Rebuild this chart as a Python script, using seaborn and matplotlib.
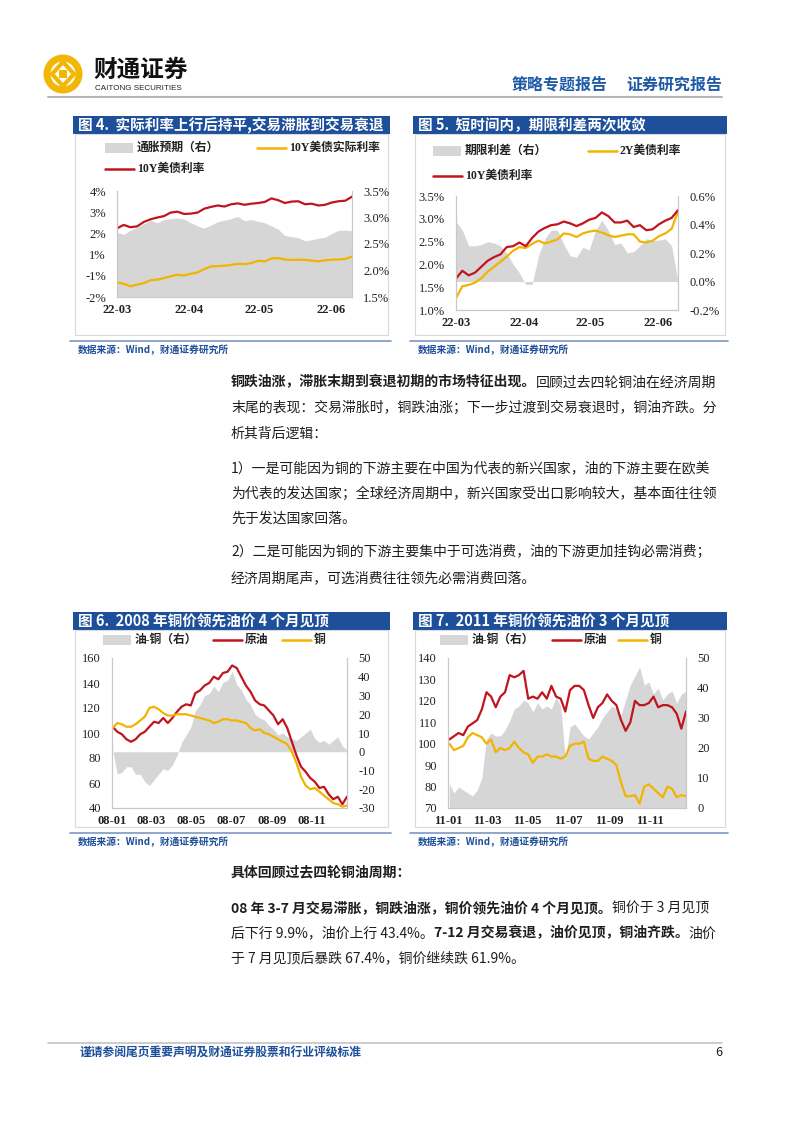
import numpy as np
import pandas as pd
import matplotlib
matplotlib.use('Agg')
import matplotlib.pyplot as plt
import seaborn as sns
from matplotlib.patches import Rectangle, Circle, Polygon

# ---- data ----
# Fig 4: 10Y UST, 10Y real yield (left), breakeven inflation (right)
ust10_f4 = [1.89, 2.08, 1.95, 2.00, 2.25, 2.40, 2.50, 2.58, 2.78, 2.83, 2.70, 2.72,
            2.78, 3.00, 3.10, 3.18, 3.12, 3.25, 3.30, 3.22, 3.28, 3.32, 3.38, 3.58,
            3.48, 3.32, 3.40, 3.42, 3.25, 3.28, 3.18, 3.22, 3.35, 3.42, 3.45, 3.68]
real10_f4 = [-1.17, -1.25, -1.40, -1.30, -1.21, -1.05, -1.02, -0.93, -0.83, -0.74, -0.78, -0.68,
             -0.61, -0.42, -0.27, -0.25, -0.23, -0.18, -0.12, -0.14, -0.08, 0.05, 0.02, 0.18,
             0.20, 0.12, 0.10, 0.11, 0.10, 0.06, 0.02, 0.08, 0.11, 0.13, 0.15, 0.29]
infl_f4 = [2.72, 2.68, 2.76, 2.82, 2.88, 2.95, 2.90, 2.96, 2.98, 2.99, 2.97, 2.90,
           2.84, 2.80, 2.86, 2.92, 2.95, 2.98, 3.02, 2.94, 2.96, 2.93, 2.90, 2.84,
           2.78, 2.66, 2.64, 2.62, 2.56, 2.58, 2.61, 2.63, 2.70, 2.76, 2.76, 2.75]

# Fig 5: 10Y, 2Y (left), term spread (right)
ust10_f5 = [1.69, 1.86, 1.76, 1.82, 1.95, 2.08, 2.16, 2.22, 2.38, 2.40, 2.48, 2.40,
            2.58, 2.72, 2.80, 2.86, 2.88, 2.94, 2.90, 2.84, 2.90, 2.98, 3.02, 3.14,
            3.06, 2.92, 2.92, 2.96, 2.82, 2.86, 2.75, 2.77, 2.88, 2.96, 3.02, 3.19]
ust2_f5 = [1.26, 1.52, 1.55, 1.60, 1.70, 1.84, 1.95, 2.06, 2.17, 2.30, 2.38, 2.36,
           2.45, 2.52, 2.46, 2.50, 2.55, 2.68, 2.66, 2.60, 2.68, 2.72, 2.74, 2.70,
           2.64, 2.60, 2.63, 2.66, 2.66, 2.50, 2.48, 2.52, 2.62, 2.68, 2.78, 3.16]
spread_f5 = [0.42, 0.36, 0.25, 0.25, 0.26, 0.28, 0.27, 0.25, 0.20, 0.12, 0.06, -0.02,
             -0.02, 0.18, 0.30, 0.36, 0.36, 0.26, 0.18, 0.17, 0.24, 0.22, 0.36, 0.43,
             0.36, 0.26, 0.27, 0.20, 0.21, 0.25, 0.30, 0.29, 0.29, 0.30, 0.25, 0.00]

# Fig 6: 2008 weekly, oil & copper (left, rebased), oil-copper (right)
oil_08 = [105, 101, 99, 95, 93, 95, 99, 101, 105, 109, 108, 112, 108, 112, 117, 121, 123, 122,
          132, 134, 138, 140, 145, 143, 148, 149, 154, 152, 145, 138, 133, 126, 123, 122, 118,
          114, 107, 111, 104, 93, 82, 73, 69, 64, 61, 56, 57, 51, 47, 49, 43, 49]
cu_08 = [104, 108, 107, 105, 105, 107, 110, 113, 120, 121, 119, 116, 114, 114, 115, 115, 115, 114,
         113, 112, 111, 110, 108, 109, 111, 111, 110, 110, 109, 108, 104, 102, 103, 100, 99,
         97, 95, 93, 91, 85, 76, 65, 58, 55, 56, 53, 50, 47, 44, 43, 41, 42]
gap_08 = [1, -12, -11, -8, -8, -12, -12, -16, -18, -15, -12, -9, -10, -7, -2, 5, 9, 13,
          22, 25, 30, 31, 35, 32, 37, 38, 43, 36, 33, 28, 25, 20, 18, 17, 14,
          12, 9, 10, 8, 7, 6, 8, 10, 12, 7, 5, 6, 4, 6, 8, 3, 1]

# Fig 7: 2011 weekly
oil_11 = [102, 103.5, 105, 104, 108, 109.5, 111, 116, 124, 122, 117, 122, 124, 132, 131, 132, 134,
          121, 122, 121, 124, 121, 127, 122, 121, 115, 125, 127, 127, 125, 118, 112, 117, 119,
          123, 120, 118, 111, 106, 110, 120, 118, 118, 119, 122, 117, 118, 118, 117, 114, 107, 115]
cu_11 = [100, 97, 98, 99, 103, 105, 104, 103, 100, 102, 96, 98, 97, 98, 101, 98, 96,
         95, 91, 94, 94, 95, 94, 94, 93, 94, 99, 100, 100, 101, 93, 92, 92, 94,
         93, 92, 90, 82, 75.5, 75.5, 76, 72, 80, 81, 79, 77, 75, 80, 79, 75, 76, 75.5]
gap_11 = [8, 5, 7, 6, 5, 4, 6, 10, 23, 25, 24, 24, 26, 29, 33, 34, 36,
          35, 32, 35, 33, 34, 33, 37, 34, 16, 27, 28, 26, 24, 23, 25, 27, 30,
          32, 34, 33, 31, 36, 41, 44, 47, 41, 42, 38, 40, 36, 38, 39, 35, 38, 39]

d22 = pd.date_range('2022-03-01', '2022-06-10', periods=len(ust10_f4))
d08 = pd.date_range('2008-01-02', periods=len(oil_08), freq='7D')
d11 = pd.date_range('2011-01-03', periods=len(oil_11), freq='7D')

W, H = 802, 1133
RED = '#c0151f'
YEL = '#f2b400'
GREY = '#d6d6d6'
BLUE = '#1d4f9a'
CJK = ['Noto Sans CJK SC', 'DejaVu Sans']
SERIF = ['Liberation Serif', 'Noto Sans CJK SC']

sns.set_theme(style='white')
plt.rcParams['font.family'] = SERIF

fig = plt.figure(figsize=(W / 100, H / 100), dpi=100)
page = fig.add_axes([0, 0, 1, 1])
page.set_xlim(0, W)
page.set_ylim(H, 0)
page.axis('off')
renderer = fig.canvas.get_renderer()


def rect(x0, y0, x1, y1):
    return [x0 / W, 1 - y1 / H, (x1 - x0) / W, (y1 - y0) / H]


def runs(y, pieces, x=231, size=10):
    # draw bold / regular pieces one after another on the same line
    for txt, bold in pieces:
        t = page.text(x, y, txt, fontsize=size, family=CJK, color='#1e1e1e',
                      fontweight='bold' if bold else 'normal', va='center', ha='left')
        x = t.get_window_extent(renderer).x1


def frame(x0, x1, ytop, ybot, title):
    page.add_patch(Rectangle((x0, ytop), x1 - x0, 18, color=BLUE, lw=0))
    page.text(x0 + 5, ytop + 9.5, title, color='white', fontsize=10.5, fontweight='bold',
              family=CJK, va='center')
    page.add_patch(Rectangle((x0 + 2, ytop + 18), x1 - x0 - 4, ybot - ytop - 24,
                             fill=False, ec='#d9d9d9', lw=0.8))
    page.plot([x0 - 3, x1 + 1], [ybot, ybot], color='#7d97c4', lw=1.2)
    page.text(x0 + 5, ybot + 9, '数据来源：Wind，财通证券研究所', color=BLUE, fontsize=7,
              fontweight='bold', family=CJK, va='center')


def leg_patch(x, y, label):
    page.add_patch(Rectangle((x, y - 5), 28, 10, color=GREY, lw=0))
    page.text(x + 32, y, label, fontsize=8.5, fontweight='bold', color='#222222', va='center')


def leg_line(x, y, color, label):
    page.plot([x, x + 29], [y, y], color=color, lw=1.8)
    page.text(x + 32, y, label, fontsize=8.5, fontweight='bold', color='#222222', va='center')


def chart(box, dates, area, base, lines, lim_l, ticks_l, lab_l, lim_r, ticks_r, lab_r, xt, xl):
    ax = fig.add_axes(rect(*box))
    ax2 = ax.twinx()
    ax2.fill_between(dates, base, area, color=GREY, lw=0)
    for vals, col in lines:
        sns.lineplot(x=dates, y=np.array(vals, dtype=float), ax=ax, color=col, lw=1.6)
    ax.set_zorder(ax2.get_zorder() + 1)
    ax.patch.set_visible(False)
    ax.set_xlim(dates[0], dates[-1])
    ax.set_ylim(*lim_l)
    ax.set_yticks(ticks_l, lab_l)
    ax2.set_ylim(*lim_r)
    ax2.set_yticks(ticks_r, lab_r)
    ax.set_xticks(xt, xl, fontweight='bold')
    ax.set_xlabel('')
    ax.set_ylabel('')
    ax2.set_ylabel('')
    for a in (ax, ax2):
        a.tick_params(length=0, labelsize=9, pad=8, colors='#222222')
        for s in a.spines.values():
            s.set_color('#c8c8c8')
            s.set_linewidth(0.8)
        a.spines['top'].set_visible(False)
    ax.tick_params(axis='x', pad=5)
    return ax, ax2


# ---- header ----
page.add_patch(Circle((63, 74), 16, fill=False, ec='#f2b705', lw=5))
page.add_patch(Polygon([(63, 62), (74, 74), (63, 86), (52, 74)], closed=True,
                       fc='white', ec='#f2b705', lw=3))
page.add_patch(Rectangle((59, 70), 8, 8, color='#f2b705', lw=0))
page.text(93, 70, '财通证券', fontsize=17, fontweight='bold', family=CJK, color='#111111', va='center')
page.text(95, 89, 'CAITONG SECURITIES', fontsize=5.8, family=['Liberation Sans'], color='#222222',
          va='center')
page.text(512, 85, '策略专题报告', fontsize=11.5, fontweight='bold', family=CJK, color='#1f5aa6', va='center')
page.text(626, 85, '证券研究报告', fontsize=11.5, fontweight='bold', family=CJK, color='#1f5aa6', va='center')
page.plot([48, 722], [97, 97], color='#b5b5b5', lw=1.5)

# ---- fig 4 / fig 5 ----
frame(73, 390, 116, 341, '图 4.  实际利率上行后持平,交易滞胀到交易衰退')
frame(413, 727, 116, 341, '图 5.  短时间内，期限利差两次收敛')
leg_patch(105, 148, '通胀预期（右）')
leg_line(257, 148, YEL, '10Y美债实际利率')
leg_line(105, 169, RED, '10Y美债利率')
leg_patch(433, 151, '期限利差（右）')
leg_line(588, 151, YEL, '2Y美债利率')
leg_line(433, 176, RED, '10Y美债利率')

m22 = [pd.Timestamp(s) for s in ['2022-03-01', '2022-04-01', '2022-05-01', '2022-06-01']]
m22_lab = ['22-03', '22-04', '22-05', '22-06']

chart((117, 191, 352, 297), d22, infl_f4, 1.5,
      [(real10_f4, YEL), (ust10_f4, RED)],
      (-2, 4), np.linspace(-2, 4, 6), ['-2%', '-1%', '1%', '2%', '3%', '4%'],
      (1.5, 3.5), [1.5, 2.0, 2.5, 3.0, 3.5], ['1.5%', '2.0%', '2.5%', '3.0%', '3.5%'],
      m22, m22_lab)

chart((456, 196, 678, 310), d22, spread_f5, 0,
      [(ust2_f5, YEL), (ust10_f5, RED)],
      (1.0, 3.5), [1.0, 1.5, 2.0, 2.5, 3.0, 3.5], ['1.0%', '1.5%', '2.0%', '2.5%', '3.0%', '3.5%'],
      (-0.2, 0.6), [-0.2, 0.0, 0.2, 0.4, 0.6], ['-0.2%', '0.0%', '0.2%', '0.4%', '0.6%'],
      m22, m22_lab)

# ---- body text 1 ----
runs(382.5, [('铜跌油涨，滞胀末期到衰退初期的市场特征出现。', True), ('回顾过去四轮铜油在经济周期', False)])
runs(408, [('末尾的表现：交易滞胀时，铜跌油涨；下一步过渡到交易衰退时，铜油齐跌。分', False)])
runs(433.5, [('析其背后逻辑：', False)])
runs(468, [('1）一是可能因为铜的下游主要在中国为代表的新兴国家，油的下游主要在欧美', False)])
runs(493.5, [('为代表的发达国家；全球经济周期中，新兴国家受出口影响较大，基本面往往领', False)])
runs(519, [('先于发达国家回落。', False)])
runs(552, [('2）二是可能因为铜的下游主要集中于可选消费，油的下游更加挂钩必需消费；', False)])
runs(578, [('经济周期尾声，可选消费往往领先必需消费回落。', False)])

# ---- fig 6 / fig 7 ----
frame(73, 390, 612, 833, '图 6.  2008 年铜价领先油价 4 个月见顶')
frame(413, 727, 612, 833, '图 7.  2011 年铜价领先油价 3 个月见顶')
leg_patch(103, 640, '油-铜（右）')
leg_line(213, 640, RED, '原油')
leg_line(282, 640, YEL, '铜')
leg_patch(440, 640, '油-铜（右）')
leg_line(552, 640, RED, '原油')
leg_line(618, 640, YEL, '铜')

months = ['01', '03', '05', '07', '09', '11']
chart((112, 658, 347, 808), d08, gap_08, 0,
      [(oil_08, RED), (cu_08, YEL)],
      (40, 160), list(range(40, 161, 20)), [str(v) for v in range(40, 161, 20)],
      (-30, 50), list(range(-30, 51, 10)), [str(v) for v in range(-30, 51, 10)],
      [pd.Timestamp(f'2008-{m}-01') for m in months], [f'08-{m}' for m in months])

chart((448, 658, 686, 808), d11, gap_11, 0,
      [(oil_11, RED), (cu_11, YEL)],
      (70, 140), list(range(70, 141, 10)), [str(v) for v in range(70, 141, 10)],
      (0, 50), list(range(0, 51, 10)), [str(v) for v in range(0, 51, 10)],
      [pd.Timestamp(f'2011-{m}-01') for m in months], [f'11-{m}' for m in months])

# ---- body text 2 ----
runs(872, [('具体回顾过去四轮铜油周期：', True)])
runs(908, [('08 年 3-7 月交易滞胀，铜跌油涨，铜价领先油价 4 个月见顶。', True), ('铜价于 3 月见顶', False)])
runs(933.5, [('后下行 9.9%，油价上行 43.4%。', False), ('7-12 月交易衰退，油价见顶，铜油齐跌。', True),
             ('油价', False)])
runs(958.5, [('于 7 月见顶后暴跌 67.4%，铜价继续跌 61.9%。', False)])

# ---- footer ----
page.plot([48, 722], [1043, 1043], color='#c4c4c4', lw=1.2)
page.text(80, 1053, '谨请参阅尾页重要声明及财通证券股票和行业评级标准', fontsize=8.5, fontweight='bold',
          family=CJK, color=BLUE, va='center')
page.text(722, 1053, '6', fontsize=9, family=CJK, color='#222222', va='center', ha='right')

fig.savefig('out.png', dpi=100)
